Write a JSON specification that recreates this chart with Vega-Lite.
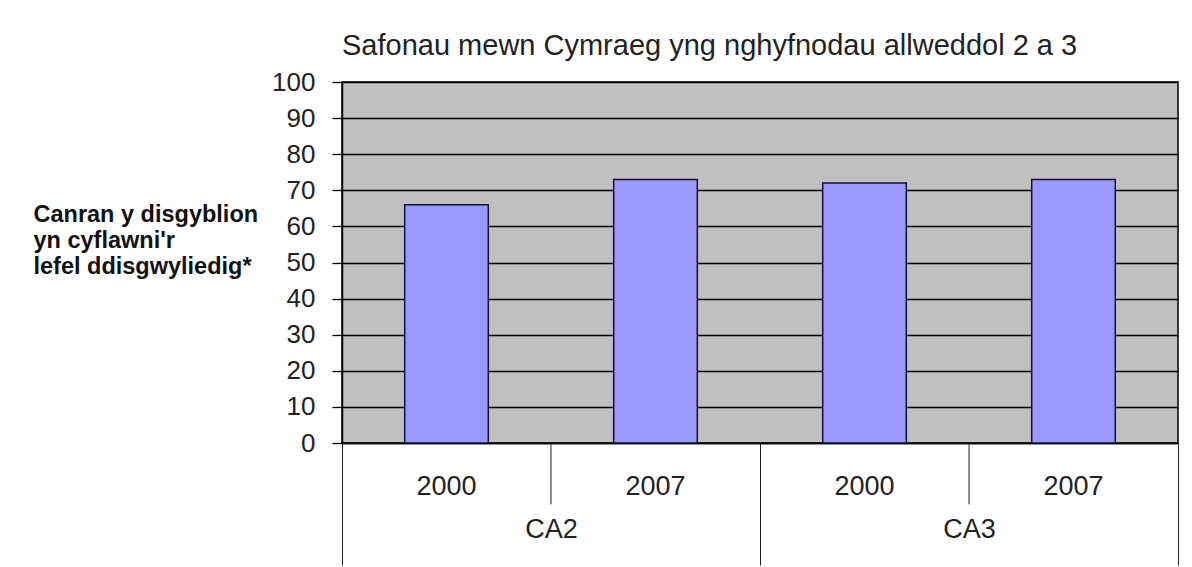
{
  "$schema": "https://vega.github.io/schema/vega-lite/v6.json",
  "autosize": "none",
  "width": 836,
  "height": 361,
  "padding": {"left": 342, "top": 82, "right": 14, "bottom": 124},
  "background": "white",
  "config": {
    "font": "Liberation Sans",
    "view": {"fill": "#C0C0C0", "stroke": "black", "strokeWidth": 1.5},
    "axisY": {
      "values": [0, 10, 20, 30, 40, 50, 60, 70, 80, 90, 100],
      "labelOverlap": false,
      "grid": true,
      "gridColor": "black",
      "gridOpacity": 1,
      "gridWidth": 1.3,
      "domainColor": "black",
      "domainWidth": 1.5,
      "tickColor": "black",
      "tickSize": 10,
      "tickWidth": 1.3,
      "labelFontSize": 26,
      "labelColor": "#222222",
      "labelPadding": 17
    }
  },
  "title": {
    "text": "Safonau mewn Cymraeg yng nghyfnodau allweddol 2 a 3",
    "anchor": "start",
    "frame": "group",
    "fontSize": 29,
    "fontWeight": "normal",
    "color": "#222222",
    "offset": 8,
    "font": "Liberation Sans"
  },
  "data": {
    "values": [
      {"group": "CA2", "year": "2000", "value": 66},
      {"group": "CA2", "year": "2007", "value": 73},
      {"group": "CA3", "year": "2000", "value": 72},
      {"group": "CA3", "year": "2007", "value": 73}
    ]
  },
  "layer": [
    {
      "mark": {"type": "bar", "fill": "#9999FF", "stroke": "#111133", "strokeWidth": 1.5},
      "encoding": {
        "x": {
          "field": "group", "type": "nominal",
          "scale": {"paddingInner": 0, "paddingOuter": 0},
          "axis": {
            "title": null,
            "tickBand": "extent",
            "tickSize": 122,
            "tickColor": "#222222",
            "tickWidth": 1,
            "domainColor": "black",
            "domainWidth": 1.5,
            "labelAngle": 0,
            "labelFontSize": 27,
            "labelColor": "#222222",
            "labelBaseline": "middle",
            "labelPadding": -36
          }
        },
        "xOffset": {
          "field": "year", "type": "nominal",
          "scale": {"paddingInner": 0.6, "paddingOuter": 0.3}
        },
        "y": {
          "field": "value", "type": "quantitative",
          "scale": {"domain": [0, 100], "nice": false},
          "axis": {
            "values": [0, 10, 20, 30, 40, 50, 60, 70, 80, 90, 100],
            "title": ["Canran y disgyblion", "yn cyflawni'r", "lefel ddisgwyliedig*"],
            "titleAngle": 0,
            "titleAlign": "left",
            "titleBaseline": "top",
            "titleX": -309,
            "titleY": 120,
            "titleFontSize": 23.5,
            "titleFontWeight": "bold",
            "titleColor": "#111111",
            "titleLineHeight": 26,
            "titleFont": "Liberation Sans"
          }
        }
      }
    },
    {
      "mark": {"type": "text", "fontSize": 27, "color": "#222222", "baseline": "middle", "align": "center"},
      "encoding": {
        "x": {"field": "group", "type": "nominal"},
        "xOffset": {"field": "year", "type": "nominal"},
        "y": {"datum": -12.2, "type": "quantitative", "axis": {"values": [0, 10, 20, 30, 40, 50, 60, 70, 80, 90, 100]}},
        "text": {"field": "year", "type": "nominal"}
      }
    },
    {
      "data": {"values": [{"group": "CA2"}, {"group": "CA3"}]},
      "mark": {"type": "rule", "color": "#222222", "strokeWidth": 1},
      "encoding": {
        "x": {"field": "group", "type": "nominal"},
        "y": {"datum": 0, "type": "quantitative", "axis": {"values": [0, 10, 20, 30, 40, 50, 60, 70, 80, 90, 100]}},
        "y2": {"datum": -17}
      }
    }
  ]
}
